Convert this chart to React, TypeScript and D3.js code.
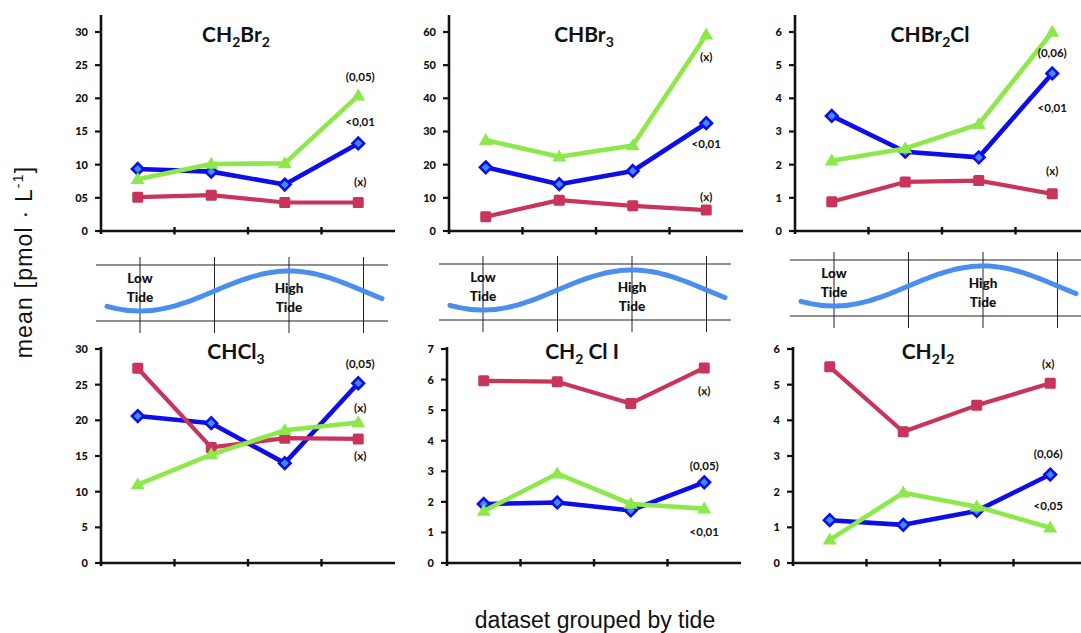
import React from 'react';
import * as d3 from 'd3';

// ---------- data ----------
const categories = ['t1', 't2', 't3', 't4'];

const ch2br2Blue = [9.35, 8.95, 7.0, 13.2];
const ch2br2Green = [7.8, 10.1, 10.2, 20.4];
const ch2br2Red = [5.1, 5.4, 4.3, 4.3];

const chbr3Blue = [19.2, 14.1, 18.1, 32.5];
const chbr3Green = [27.4, 22.4, 25.8, 59.2];
const chbr3Red = [4.3, 9.3, 7.6, 6.3];

const chbr2clBlue = [3.47, 2.39, 2.22, 4.75];
const chbr2clGreen = [2.12, 2.49, 3.22, 6.0];
const chbr2clRed = [0.88, 1.48, 1.52, 1.12];

const chcl3Blue = [20.6, 19.6, 14.0, 25.2];
const chcl3Green = [11.0, 15.2, 18.6, 19.7];
const chcl3Red = [27.3, 16.2, 17.5, 17.4];

const ch2cliBlue = [1.93, 1.98, 1.72, 2.64];
const ch2cliGreen = [1.7, 2.92, 1.93, 1.78];
const ch2cliRed = [5.96, 5.93, 5.22, 6.38];

const ch2i2Blue = [1.2, 1.07, 1.46, 2.48];
const ch2i2Green = [0.65, 1.97, 1.58, 0.99];
const ch2i2Red = [5.5, 3.68, 4.42, 5.04];

const ticksCH2Br2 = [0, 5, 10, 15, 20, 25, 30];
const tickLabelsCH2Br2 = ['0', '05', '10', '15', '20', '25', '30'];
const ticksCHBr3 = [0, 10, 20, 30, 40, 50, 60];
const ticksCHBr2Cl = [0, 1, 2, 3, 4, 5, 6];
const ticksCHCl3 = [0, 5, 10, 15, 20, 25, 30];
const ticksCH2ClI = [0, 1, 2, 3, 4, 5, 6, 7];
const ticksCH2I2 = [0, 1, 2, 3, 4, 5, 6];

const notesCH2Br2 = [{ t: '(0,05)', v: 23.2 }, { t: '<0,01', v: 16.4 }, { t: '(x)', v: 7.4 }];
const notesCHBr3 = [{ t: '(x)', v: 52.5 }, { t: '<0,01', v: 26.2 }, { t: '(x)', v: 10.3 }];
const notesCHBr2Cl = [{ t: '(0,06)', v: 5.37 }, { t: '<0,01', v: 3.71 }, { t: '(x)', v: 1.81 }];
const notesCHCl3 = [{ t: '(0,05)', v: 27.9 }, { t: '(x)', v: 21.7 }, { t: '(x)', v: 15.0 }];
const notesCH2ClI = [{ t: '(x)', v: 5.63 }, { t: '(0,05)', v: 3.17 }, { t: '<0,01', v: 1.01 }];
const notesCH2I2 = [{ t: '(x)', v: 5.58 }, { t: '(0,06)', v: 3.06 }, { t: '<0,05', v: 1.6 }];

type Seg = [string, boolean];
const titleCH2Br2: Seg[] = [['CH', false], ['2', true], ['Br', false], ['2', true]];
const titleCHBr3: Seg[] = [['CHBr', false], ['3', true]];
const titleCHBr2Cl: Seg[] = [['CHBr', false], ['2', true], ['Cl', false]];
const titleCHCl3: Seg[] = [['CHCl', false], ['3', true]];
const titleCH2ClI: Seg[] = [['CH', false], ['2', true], [' Cl I', false]];
const titleCH2I2: Seg[] = [['CH', false], ['2', true], ['I', false], ['2', true]];

// ---------- styles ----------
const BLUE = '#0d0de8';
const BLUE_FILL = '#3f8cff';
const RED = '#c8345a';
const GREEN = '#8de84b';
const FONT = 'Lato, "Open Sans", sans-serif';

interface PanelDef {
  title: Seg[];
  blue: number[];
  green: number[];
  red: number[];
  ticks: number[];
  tickLabels?: string[];
  notes: { t: string; v: number }[];
  x0: number;
  y0: number;
  yTop: number;
  axisTop: number;
  noteDx: number;
}

const panels: PanelDef[] = [
  { title: titleCH2Br2, blue: ch2br2Blue, green: ch2br2Green, red: ch2br2Red, ticks: ticksCH2Br2, tickLabels: tickLabelsCH2Br2, notes: notesCH2Br2, x0: 101, y0: 231, yTop: 32, axisTop: 15, noteDx: 2 },
  { title: titleCHBr3, blue: chbr3Blue, green: chbr3Green, red: chbr3Red, ticks: ticksCHBr3, notes: notesCHBr3, x0: 449, y0: 231, yTop: 32, axisTop: 15, noteDx: 0 },
  { title: titleCHBr2Cl, blue: chbr2clBlue, green: chbr2clGreen, red: chbr2clRed, ticks: ticksCHBr2Cl, notes: notesCHBr2Cl, x0: 795, y0: 231, yTop: 32, axisTop: 15, noteDx: 0 },
  { title: titleCHCl3, blue: chcl3Blue, green: chcl3Green, red: chcl3Red, ticks: ticksCHCl3, notes: notesCHCl3, x0: 101, y0: 563, yTop: 349, axisTop: 347, noteDx: 2 },
  { title: titleCH2ClI, blue: ch2cliBlue, green: ch2cliGreen, red: ch2cliRed, ticks: ticksCH2ClI, notes: notesCH2ClI, x0: 447, y0: 563, yTop: 349, axisTop: 347, noteDx: 0 },
  { title: titleCH2I2, blue: ch2i2Blue, green: ch2i2Green, red: ch2i2Red, ticks: ticksCH2I2, notes: notesCH2I2, x0: 793, y0: 563, yTop: 349, axisTop: 347, noteDx: -2 },
];

const BAND_W = 294;

function Diamond({ x, y }: { x: number; y: number }) {
  const r = 5.8;
  return (
    <path
      d={`M${x},${y - r}L${x + r},${y}L${x},${y + r}L${x - r},${y}Z`}
      fill={BLUE_FILL}
      stroke={BLUE}
      strokeWidth={2.6}
    />
  );
}

function Square({ x, y }: { x: number; y: number }) {
  const s = 11;
  return <rect x={x - s / 2} y={y - s / 2} width={s} height={s} rx={1.5} fill={RED} />;
}

function Triangle({ x, y }: { x: number; y: number }) {
  const w = 14;
  const h = 12;
  return <path d={`M${x},${y - h * 0.6}L${x + w / 2},${y + h * 0.4}L${x - w / 2},${y + h * 0.4}Z`} fill={GREEN} />;
}

function Panel({ p }: { p: PanelDef }) {
  const x = d3.scaleBand<string>().domain(categories).range([p.x0, p.x0 + BAND_W]);
  const maxV = p.ticks[p.ticks.length - 1];
  const y = d3.scaleLinear().domain([0, maxV]).range([p.y0, p.yTop]);
  const cx = (c: string) => (x(c) as number) + x.bandwidth() / 2;
  const line = d3
    .line<number>()
    .x((_, i) => cx(categories[i]))
    .y((v) => y(v));
  const lastX = cx(categories[categories.length - 1]) + p.noteDx;
  const titleX = p.x0 + 135;
  const titleY = p.yTop + 10;
  const bounds = categories.slice(1).map((c) => x(c) as number);
  return (
    <g>
      {/* axes */}
      <line x1={p.x0} x2={p.x0} y1={p.axisTop} y2={p.y0 + 3} stroke="#111" strokeWidth={2.6} />
      <line x1={p.x0} x2={p.x0 + BAND_W} y1={p.y0} y2={p.y0} stroke="#111" strokeWidth={2.6} />
      {bounds.map((bx, i) => (
        <line key={i} x1={bx} x2={bx} y1={p.y0 - 4} y2={p.y0 + 3.5} stroke="#111" strokeWidth={2.4} />
      ))}
      {p.ticks.map((t, i) => (
        <g key={i}>
          <line x1={p.x0 - 6} x2={p.x0} y1={y(t)} y2={y(t)} stroke="#111" strokeWidth={2.2} />
          <text
            x={p.x0 - 13}
            y={y(t)}
            dy="0.36em"
            textAnchor="end"
            fontFamily={FONT}
            fontWeight={900}
            fontSize={11}
            fill="#111"
          >
            {p.tickLabels ? p.tickLabels[i] : String(t)}
          </text>
        </g>
      ))}
      {/* title */}
      <text x={titleX} y={titleY} textAnchor="middle" fontFamily={FONT} fontWeight={700} fontSize={21} fill="#111">
        {p.title.map(([s, sub], i) => (
          <tspan
            key={i}
            fontSize={sub ? 14 : 21}
            dy={sub ? 5 : i > 0 && p.title[i - 1][1] ? -5 : 0}
          >
            {s}
          </tspan>
        ))}
      </text>
      {/* series */}
      <path d={line(p.blue) || ''} fill="none" stroke={BLUE} strokeWidth={4.6} strokeLinejoin="round" />
      {p.blue.map((v, i) => (
        <Diamond key={'b' + i} x={cx(categories[i])} y={y(v)} />
      ))}
      <path d={line(p.red) || ''} fill="none" stroke={RED} strokeWidth={4.2} strokeLinejoin="round" />
      {p.red.map((v, i) => (
        <Square key={'r' + i} x={cx(categories[i])} y={y(v)} />
      ))}
      <path d={line(p.green) || ''} fill="none" stroke={GREEN} strokeWidth={4.6} strokeLinejoin="round" />
      {p.green.map((v, i) => (
        <Triangle key={'g' + i} x={cx(categories[i])} y={y(v)} />
      ))}
      {/* annotations */}
      {p.notes.map((n, i) => (
        <text
          key={i}
          x={lastX}
          y={y(n.v)}
          dy="0.36em"
          textAnchor="middle"
          fontFamily={FONT}
          fontWeight={700}
          fontSize={11.5}
          fill="#111"
        >
          {n.t}
        </text>
      ))}
    </g>
  );
}

// tide diagrams (decorative)
const tideLeft = [140, 483, 834];
const tideTop = [265, 264, 260];
const TIDE_STEP = 74.5;

function Tide({ left, top }: { left: number; top: number }) {
  const lx = d3.range(4).map((i) => left + TIDE_STEP * i);
  const troughX = lx[0];
  const peakX = lx[2];
  const period = 2 * (peakX - troughX);
  const center = top + 26;
  const amp = 20;
  const xs = d3.range(0, 1.0001, 0.01).map((t) => left - 33 + t * 275);
  const wave = d3
    .line<number>()
    .x((v) => v)
    .y((v) => center + amp * Math.cos((2 * Math.PI * (v - troughX)) / period))
    .curve(d3.curveBasis);
  const tStyle = { fontFamily: FONT, fontWeight: 900, fontSize: 13.5, fill: '#111' } as const;
  return (
    <g>
      <line x1={left - 44} x2={left + 248} y1={top} y2={top} stroke="#222" strokeWidth={1} />
      <line x1={left - 44} x2={left + 248} y1={top + 56} y2={top + 56} stroke="#222" strokeWidth={1} />
      {lx.map((v, i) => (
        <line key={i} x1={v} x2={v} y1={top - 8} y2={top + 68} stroke="#222" strokeWidth={1} />
      ))}
      <path d={wave(xs) || ''} fill="none" stroke="#4a8ff0" strokeWidth={5} strokeLinecap="round" />
      <text x={lx[0]} y={top + 13} dy="0.36em" textAnchor="middle" {...tStyle}>Low</text>
      <text x={lx[0]} y={top + 32} dy="0.36em" textAnchor="middle" {...tStyle}>Tide</text>
      <text x={lx[2]} y={top + 23} dy="0.36em" textAnchor="middle" {...tStyle}>High</text>
      <text x={lx[2]} y={top + 42} dy="0.36em" textAnchor="middle" {...tStyle}>Tide</text>
    </g>
  );
}

export default function App() {
  return (
    <svg
      width={1081}
      height={633}
      style={{ position: 'absolute', left: 0, top: 0, background: '#fff' }}
    >
      <rect x={0} y={0} width={1081} height={633} fill="#fff" />
      {tideLeft.map((l, i) => (
        <Tide key={i} left={l} top={tideTop[i]} />
      ))}
      {panels.map((p, i) => (
        <Panel key={i} p={p} />
      ))}
      <text
        transform="translate(32,262) rotate(-90)"
        textAnchor="middle"
        fontFamily='"Liberation Sans", Arial, sans-serif'
        fontSize={23}
        letterSpacing={1.2}
        fill="#111"
      >
        mean [pmol · L<tspan fontSize={14} dy={-9}>-1</tspan>
        <tspan dy={9}>]</tspan>
      </text>
      <text
        x={595}
        y={628}
        textAnchor="middle"
        fontFamily='"Liberation Sans", Arial, sans-serif'
        fontSize={23}
        fill="#111"
      >
        dataset grouped by tide
      </text>
    </svg>
  );
}
